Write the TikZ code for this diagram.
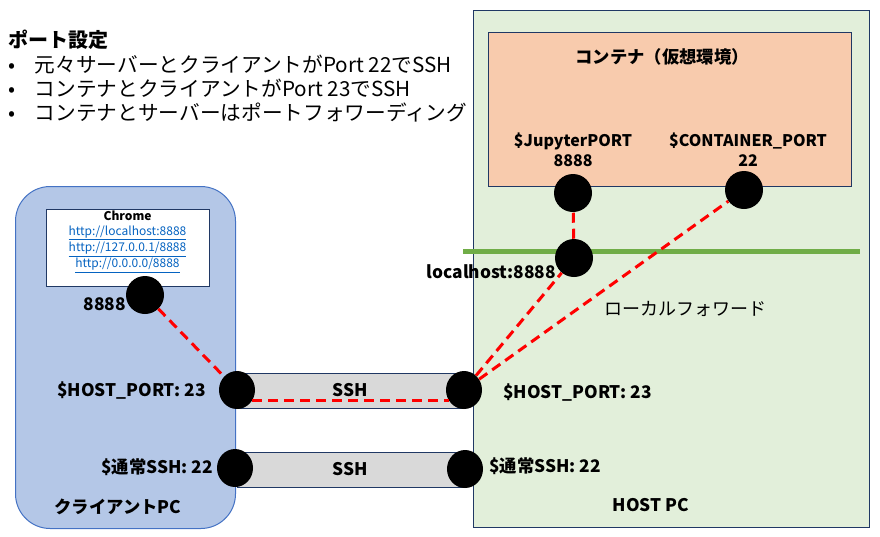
\documentclass[tikz,border=0pt]{standalone}
\usepackage{fontspec}
\setmainfont{Noto Sans CJK JP}
\usepackage{tikz}
\usetikzlibrary{shapes.geometric}

\definecolor{hostvert}{HTML}{E2EFDA}
\definecolor{contorange}{HTML}{F8CBAD}
\definecolor{clientbleu}{HTML}{B4C7E7}
\definecolor{clientbord}{HTML}{4472C4}
\definecolor{bordfonce}{HTML}{203864}
\definecolor{tubegris}{HTML}{D9D9D9}
\definecolor{lignevert}{HTML}{70AD47}
\definecolor{lienbleu}{HTML}{0563C1}

\begin{document}
\begin{tikzpicture}[x=0.75pt,y=-0.75pt,
  boite/.style={draw=bordfonce, line width=0.75pt, anchor=north west, inner sep=0pt},
  port/.style={circle, fill=black, minimum size=28.5pt, inner sep=0pt},
  portov/.style={ellipse, fill=black, minimum width=27pt, minimum height=28.5pt, inner sep=0pt},
  tube/.style={draw=bordfonce, fill=tubegris, line width=0.75pt, minimum width=170.25pt, minimum height=26.25pt, inner sep=0pt, font=\fontsize{13}{15}\selectfont\bfseries},
  fwd/.style={red, line width=2.25pt, dash pattern=on 7.5pt off 4.5pt},
  etiq/.style={font=\fontsize{13}{15}\selectfont\bfseries, inner sep=0pt}]
  \useasboundingbox (0,0) rectangle (880,536);

  % Boîtes principales
  \node[boite, fill=hostvert, minimum width=297pt, minimum height=387.75pt] (host) at (473,10) {};
  \node[boite, fill=contorange, minimum width=272.25pt, minimum height=115.5pt] (cont) at (488,32) {};
  \node[boite, draw=clientbord, fill=clientbleu, rounded corners=26pt, minimum width=165pt, minimum height=256.5pt] (client) at (15,186) {};
  \node[boite, fill=white, minimum width=122.25pt, minimum height=57.75pt] (chrome) at (46,209) {};

  % Tunnels SSH
  \node[tube] (ssh1) at (350.5,390.5) {SSH};
  \node[tube] (ssh2) at (350.5,469.5) {SSH};

  % Limite localhost
  \draw[lignevert, line width=3.75pt] (463,251) -- (860,251);

  % Ports
  \node[port] (jup) at (573,193) {};
  \node[port] (cport) at (744,190) {};
  \node[port] (lhost) at (574,258) {};
  \node[portov] (hhp) at (464,390) {};
  \node[portov] (hssh) at (465,469) {};
  \node[port] (chrp) at (145,295) {};
  \node[portov] (chp) at (237,390) {};
  \node[portov] (cssh) at (235,468) {};

  % Redirections
  \draw[fwd] (chrp) -- (chp);
  \draw[fwd] (chp.-35) -- (hhp.-145);
  \draw[fwd] (hhp) -- (lhost);
  \draw[fwd] (hhp) -- (cport);
  \draw[fwd] (lhost) -- (jup);

  % Texte en haut à gauche
  \node[anchor=west, inner sep=0pt, font=\fontsize{15}{18}\selectfont\bfseries] (titre) at (8,40) {ポート設定};
  \node[anchor=west, inner sep=0pt, font=\fontsize{15.5}{18}\selectfont] (puce1) at (8,65) {\makebox[20pt][l]{•}元々サーバーとクライアントがPort 22でSSH};
  \node[anchor=west, inner sep=0pt, font=\fontsize{15.5}{18}\selectfont] (puce2) at (8,88) {\makebox[20pt][l]{•}コンテナとクライアントがPort 23でSSH};
  \node[anchor=west, inner sep=0pt, font=\fontsize{15.5}{18}\selectfont] (puce3) at (8,112) {\makebox[20pt][l]{•}コンテナとサーバーはポートフォワーディング};

  % Texte Chrome
  \node[anchor=north, align=center, inner sep=0pt, font=\fontsize{9}{10.7}\selectfont] (chrometxt) at (127.5,211) {\textbf{Chrome}\\
    \textcolor{lienbleu}{\underline{http://localhost:8888}}\\
    \textcolor{lienbleu}{\underline{http://127.0.0.1/8888}}\\
    \textcolor{lienbleu}{\underline{http://0.0.0.0/8888}}};

  % Etiquettes
  \node[font=\fontsize{13}{15}\selectfont\bfseries] (conttitre) at (662,57) {コンテナ（仮想環境）};
  \node[align=center, font=\fontsize{12}{15}\selectfont\bfseries] (jupl) at (573,150) {\$JupyterPORT\\8888};
  \node[align=center, font=\fontsize{12}{15}\selectfont\bfseries] (cportl) at (748,150) {\$CONTAINER\_PORT\\22};
  \node[etiq, anchor=east] (lhostl) at (556,272) {localhost:8888};
  \node[inner sep=0pt, font=\fontsize{13.5}{15}\selectfont] (fwdl) at (685,309) {ローカルフォワード};
  \node[etiq, anchor=west] (hhpl) at (503,393) {\$HOST\_PORT: 23};
  \node[etiq, anchor=west] (hsshl) at (489,466) {\$通常SSH: 22};
  \node[etiq, anchor=east] (chpl) at (206,391) {\$HOST\_PORT: 23};
  \node[etiq, anchor=east] (csshl) at (213,467) {\$通常SSH: 22};
  \node[etiq, anchor=east] (chrpl) at (126,304) {8888};
  \node[etiq] (clientl) at (118,507) {クライアントPC};
  \node[etiq] (hostl) at (651,505) {HOST PC};
\end{tikzpicture}
\end{document}
